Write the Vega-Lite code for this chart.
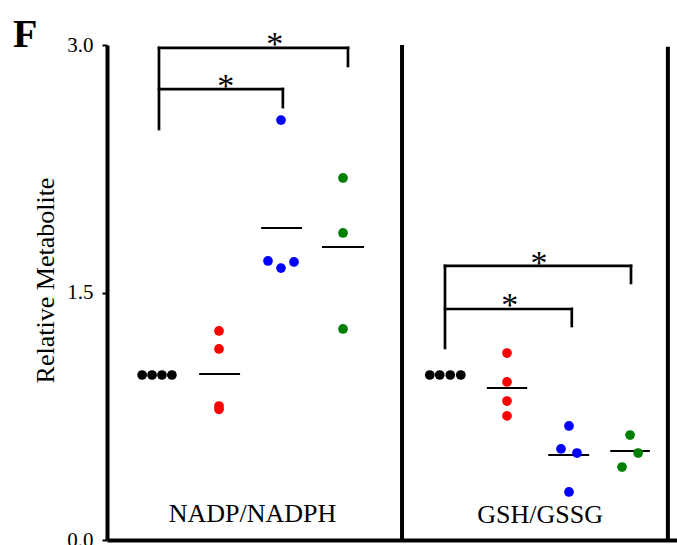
{
  "$schema": "https://vega.github.io/schema/vega-lite/v6.json",
  "autosize": {"type": "none"},
  "padding": {"left": 107, "top": 45, "right": 0, "bottom": 5},
  "width": 570,
  "height": 495,
  "background": "white",
  "view": {"stroke": null},
  "config": {"font": "Liberation Serif"},
  "title": {"text": "F", "anchor": "start", "frame": "group", "dx": -94, "dy": 59, "fontSize": 40, "fontWeight": "bold", "font": "Liberation Serif", "color": "black", "baseline": "alphabetic", "offset": 0},
  "datasets": {
    "points": [
      {"x": 0.76, "value": 1.0, "group": "Control"},
      {"x": 0.92, "value": 1.0, "group": "Control"},
      {"x": 1.08, "value": 1.0, "group": "Control"},
      {"x": 1.24, "value": 1.0, "group": "Control"},
      {"x": 2.0, "value": 1.267, "group": "A"},
      {"x": 2.0, "value": 1.158, "group": "A"},
      {"x": 2.0, "value": 0.812, "group": "A"},
      {"x": 2.0, "value": 0.792, "group": "A"},
      {"x": 3.0, "value": 2.545, "group": "B"},
      {"x": 2.79, "value": 1.691, "group": "B"},
      {"x": 3.0, "value": 1.648, "group": "B"},
      {"x": 3.21, "value": 1.685, "group": "B"},
      {"x": 4.0, "value": 2.194, "group": "C"},
      {"x": 4.0, "value": 1.861, "group": "C"},
      {"x": 4.0, "value": 1.279, "group": "C"},
      {"x": 5.40, "value": 1.0, "group": "Control"},
      {"x": 5.56, "value": 1.0, "group": "Control"},
      {"x": 5.73, "value": 1.0, "group": "Control"},
      {"x": 5.90, "value": 1.0, "group": "Control"},
      {"x": 6.645, "value": 1.133, "group": "A"},
      {"x": 6.645, "value": 0.958, "group": "A"},
      {"x": 6.645, "value": 0.842, "group": "A"},
      {"x": 6.645, "value": 0.752, "group": "A"},
      {"x": 7.645, "value": 0.691, "group": "B"},
      {"x": 7.516, "value": 0.552, "group": "B"},
      {"x": 7.774, "value": 0.527, "group": "B"},
      {"x": 7.645, "value": 0.291, "group": "B"},
      {"x": 8.63, "value": 0.636, "group": "C"},
      {"x": 8.76, "value": 0.527, "group": "C"},
      {"x": 8.50, "value": 0.442, "group": "C"}
    ],
    "means": [
      {"x": 1.68, "x2": 2.34, "value": 1.006},
      {"x": 2.68, "x2": 3.34, "value": 1.891},
      {"x": 3.66, "x2": 4.34, "value": 1.776},
      {"x": 6.32, "x2": 6.97, "value": 0.921},
      {"x": 7.31, "x2": 7.97, "value": 0.515},
      {"x": 8.31, "x2": 8.95, "value": 0.539}
    ],
    "brackets": [
      {"x": 1.032, "x2": 4.08, "y": 2.982, "y2": 2.982},
      {"x": 1.032, "x2": 1.032, "y": 2.491, "y2": 2.982},
      {"x": 4.08, "x2": 4.08, "y": 2.873, "y2": 2.982},
      {"x": 1.032, "x2": 3.03, "y": 2.733, "y2": 2.733},
      {"x": 3.03, "x2": 3.03, "y": 2.624, "y2": 2.733},
      {"x": 5.645, "x2": 8.645, "y": 1.661, "y2": 1.661},
      {"x": 5.645, "x2": 5.645, "y": 1.164, "y2": 1.661},
      {"x": 8.645, "x2": 8.645, "y": 1.558, "y2": 1.661},
      {"x": 5.645, "x2": 7.69, "y": 1.4, "y2": 1.4},
      {"x": 7.69, "x2": 7.69, "y": 1.297, "y2": 1.4}
    ],
    "stars": [
      {"x": 2.90, "y": 2.940, "t": "*"},
      {"x": 2.11, "y": 2.685, "t": "*"},
      {"x": 7.16, "y": 1.612, "t": "*"},
      {"x": 6.69, "y": 1.358, "t": "*"}
    ],
    "labels": [
      {"x": 2.54, "y": 0.109, "t": "NADP/NADPH"},
      {"x": 7.18, "y": 0.103, "t": "GSH/GSSG"}
    ],
    "dividers": [
      {"x": 4.952, "y": 0, "y2": 3.0, "w": "thick"},
      {"x": 9.24, "y": 0, "y2": 2.99, "w": "thin"}
    ]
  },
  "encoding": {
    "x": {"type": "quantitative", "scale": {"domain": [0.1935, 9.387], "nice": false, "zero": false},
      "axis": {"title": null, "labels": false, "ticks": false, "grid": false, "domain": true, "domainColor": "black", "domainWidth": 4}},
    "y": {"type": "quantitative", "scale": {"domain": [0, 3], "nice": false, "zero": false}}
  },
  "layer": [
    {
      "data": {"name": "dividers"},
      "mark": {"type": "rule", "color": "black", "strokeWidth": 4},
      "encoding": {
        "x": {"field": "x"},
        "y": {"field": "y", "axis": {"title": "Relative Metabolite", "values": [0, 1.5, 3], "format": ".1f", "grid": false,
          "domainColor": "black", "domainWidth": 4, "tickColor": "black", "tickSize": 5, "tickWidth": 2,
          "labelFont": "Liberation Serif", "labelFontSize": 21, "labelColor": "black", "labelPadding": 9,
          "titleFont": "Liberation Serif", "titleFontSize": 26, "titleFontWeight": "normal", "titleColor": "black",
          "titleX": -54, "titleY": 235, "titleBaseline": "alphabetic", "titleAngle": -90, "titleAlign": "center"}},
        "y2": {"field": "y2"},
        "strokeWidth": {"field": "w", "type": "nominal", "scale": {"domain": ["thick", "thin"], "range": [4, 2]}, "legend": null}
      }
    },
    {
      "data": {"name": "brackets"},
      "mark": {"type": "rule", "color": "black", "strokeWidth": 2.7, "strokeCap": "square"},
      "encoding": {
        "x": {"field": "x"},
        "x2": {"field": "x2"},
        "y": {"field": "y"},
        "y2": {"field": "y2"}
      }
    },
    {
      "data": {"name": "means"},
      "mark": {"type": "rule", "color": "black", "strokeWidth": 2},
      "encoding": {
        "x": {"field": "x"},
        "x2": {"field": "x2"},
        "y": {"field": "value"}
      }
    },
    {
      "data": {"name": "points"},
      "mark": {"type": "circle", "size": 95, "opacity": 1},
      "encoding": {
        "x": {"field": "x"},
        "y": {"field": "value"},
        "color": {"field": "group", "type": "nominal", "scale": {"domain": ["Control", "A", "B", "C"], "range": ["#000000", "#ff0000", "#0000ff", "#008000"]}, "legend": null}
      }
    },
    {
      "data": {"name": "stars"},
      "mark": {"type": "text", "font": "Liberation Serif", "fontSize": 34, "color": "black", "align": "center", "baseline": "alphabetic"},
      "encoding": {
        "x": {"field": "x"},
        "y": {"field": "y"},
        "text": {"field": "t"}
      }
    },
    {
      "data": {"name": "labels"},
      "mark": {"type": "text", "font": "Liberation Serif", "fontSize": 26, "color": "black", "align": "center", "baseline": "alphabetic"},
      "encoding": {
        "x": {"field": "x"},
        "y": {"field": "y"},
        "text": {"field": "t"}
      }
    }
  ]
}
